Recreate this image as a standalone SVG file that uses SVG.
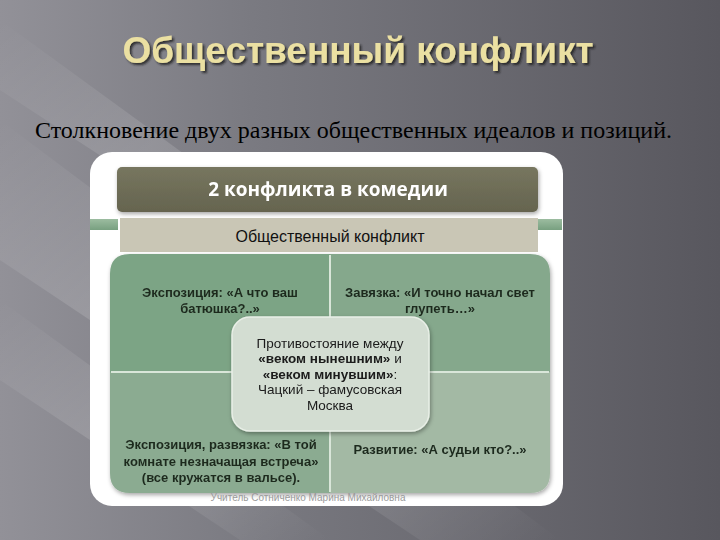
<svg xmlns="http://www.w3.org/2000/svg" width="720" height="540" viewBox="0 0 720 540">
<defs>
  <linearGradient id="bg" x1="0" y1="0" x2="1" y2="0">
    <stop offset="0" stop-color="#929198"/>
    <stop offset="0.35" stop-color="#7a7a81"/>
    <stop offset="1" stop-color="#58575e"/>
  </linearGradient>
  <linearGradient id="beam" x1="0" y1="0" x2="1" y2="1">
    <stop offset="0" stop-color="#ffffff" stop-opacity="0"/>
    <stop offset="0.5" stop-color="#ffffff" stop-opacity="0.22"/>
    <stop offset="1" stop-color="#ffffff" stop-opacity="0"/>
  </linearGradient>
  <linearGradient id="hdr" x1="0" y1="0" x2="0" y2="1">
    <stop offset="0" stop-color="#77765f"/>
    <stop offset="1" stop-color="#65644f"/>
  </linearGradient>
  <linearGradient id="strip" x1="0" y1="0" x2="0" y2="1">
    <stop offset="0" stop-color="#9cbca0"/>
    <stop offset="1" stop-color="#78a080"/>
  </linearGradient>
  <filter id="sh" x="-10%" y="-10%" width="130%" height="130%">
    <feDropShadow dx="1" dy="2" stdDeviation="2" flood-color="#000" flood-opacity="0.35"/>
  </filter>
  <filter id="tsh" x="-5%" y="-20%" width="110%" height="150%">
    <feDropShadow dx="2" dy="2" stdDeviation="1.2" flood-color="#1a1a1a" flood-opacity="0.8"/>
  </filter>
</defs>
<style>
  .q { font-family: "Liberation Sans", Arial, sans-serif; font-weight: bold; font-size: 13px; fill: #1e2a1f; text-anchor: middle; }
  .c { font-family: "Liberation Sans", Arial, sans-serif; font-size: 13.5px; fill: #1a1a1a; text-anchor: middle; }
  .cb { font-weight: bold; }
  .div { stroke: #d9e6d9; stroke-width: 2; }
</style>

<!-- background -->
<rect x="0" y="0" width="720" height="540" fill="url(#bg)"/>
<polygon points="0,120 0,260 420,540 560,540" fill="url(#beam)"/>
<polygon points="0,20 0,90 260,260 330,260" fill="url(#beam)" opacity="0.6"/>
<polygon points="0,300 0,380 240,540 330,540" fill="url(#beam)" opacity="0.7"/>

<!-- title -->
<g id="title">
  <text x="358" y="63" font-family="Liberation Sans, Arial, sans-serif" font-weight="bold" font-size="37" fill="#ebe0a2" text-anchor="middle" filter="url(#tsh)">Общественный конфликт</text>
</g>
<g id="subtitle">
  <text x="35" y="138" font-family="Liberation Serif, Times New Roman, serif" font-size="22.5" fill="#000" textLength="637" lengthAdjust="spacingAndGlyphs">Столкновение двух разных общественных идеалов и позиций.</text>
</g>

<!-- white panel -->
<g id="panel">
  <rect x="90" y="152" width="473" height="354" rx="22" fill="#ffffff"/>
</g>

<!-- header -->
<g id="header" filter="url(#sh)">
  <rect x="117" y="167" width="421" height="45" rx="5" fill="url(#hdr)"/>
  <text x="328" y="196" font-family="Open Sans, Liberation Sans, sans-serif" font-weight="bold" font-size="19" fill="#ffffff" text-anchor="middle">2 конфликта в комедии</text>
</g>

<!-- side strips -->
<g id="strips">
  <rect x="90" y="219" width="28" height="11" fill="url(#strip)"/>
  <rect x="538" y="219" width="24" height="11" fill="url(#strip)"/>
</g>

<!-- beige bar -->
<g id="bar">
  <rect x="120" y="218" width="418" height="34" fill="#c9c6b5"/>
  <text x="330" y="242" font-family="Liberation Sans, Arial, sans-serif" font-size="16" fill="#111" text-anchor="middle">Общественный конфликт</text>
</g>

<!-- quadrants -->
<g id="quadrants" filter="url(#sh)">
  <g id="q-tl">
    <path d="M110,274 Q110,254 130,254 L330,254 L330,372 L110,372 Z" fill="#7ca485"/>
    <text class="q" x="220" y="297">Экспозиция: «А что ваш</text>
    <text class="q" x="220" y="313">батюшка?..»</text>
  </g>
  <g id="q-tr">
    <path d="M330,254 L530,254 Q550,254 550,274 L550,372 L330,372 Z" fill="#85a88c"/>
    <text class="q" x="440" y="297">Завязка: «И точно начал свет</text>
    <text class="q" x="440" y="313">глупеть…»</text>
  </g>
  <g id="q-bl">
    <path d="M110,372 L330,372 L330,493 L130,493 Q110,493 110,473 Z" fill="#8bab91"/>
    <text class="q" x="221" y="449">Экспозиция, развязка: «В той</text>
    <text class="q" x="221" y="466">комнате незначащая встреча»</text>
    <text class="q" x="221" y="482">(все кружатся в вальсе).</text>
  </g>
  <g id="q-br">
    <path d="M330,372 L550,372 L550,473 Q550,493 530,493 L330,493 Z" fill="#a3b9a4"/>
    <text class="q" x="440" y="454">Развитие: «А судьи кто?..»</text>
  </g>
  <line class="div" x1="330" y1="255" x2="330" y2="492"/>
  <line class="div" x1="111" y1="372" x2="549" y2="372"/>
</g>

<!-- center -->
<g id="center" filter="url(#sh)">
  <rect x="232" y="317" width="197" height="114" rx="18" fill="#d3ddd2" stroke="#e9efe7" stroke-width="1.5"/>
  <text class="c" x="330" y="348">Противостояние между</text>
  <text class="c" x="330" y="363"><tspan class="cb">«веком нынешним»</tspan> и</text>
  <text class="c" x="330" y="379"><tspan class="cb">«веком минувшим»</tspan>:</text>
  <text class="c" x="330" y="394">Чацкий – фамусовская</text>
  <text class="c" x="330" y="410">Москва</text>
</g>

<!-- footer -->
<g id="footer">
  <text x="308" y="501" font-family="Liberation Sans, Arial, sans-serif" font-size="10" fill="#9a9a9a" text-anchor="middle">Учитель Сотниченко Марина Михайловна</text>
</g>
</svg>
